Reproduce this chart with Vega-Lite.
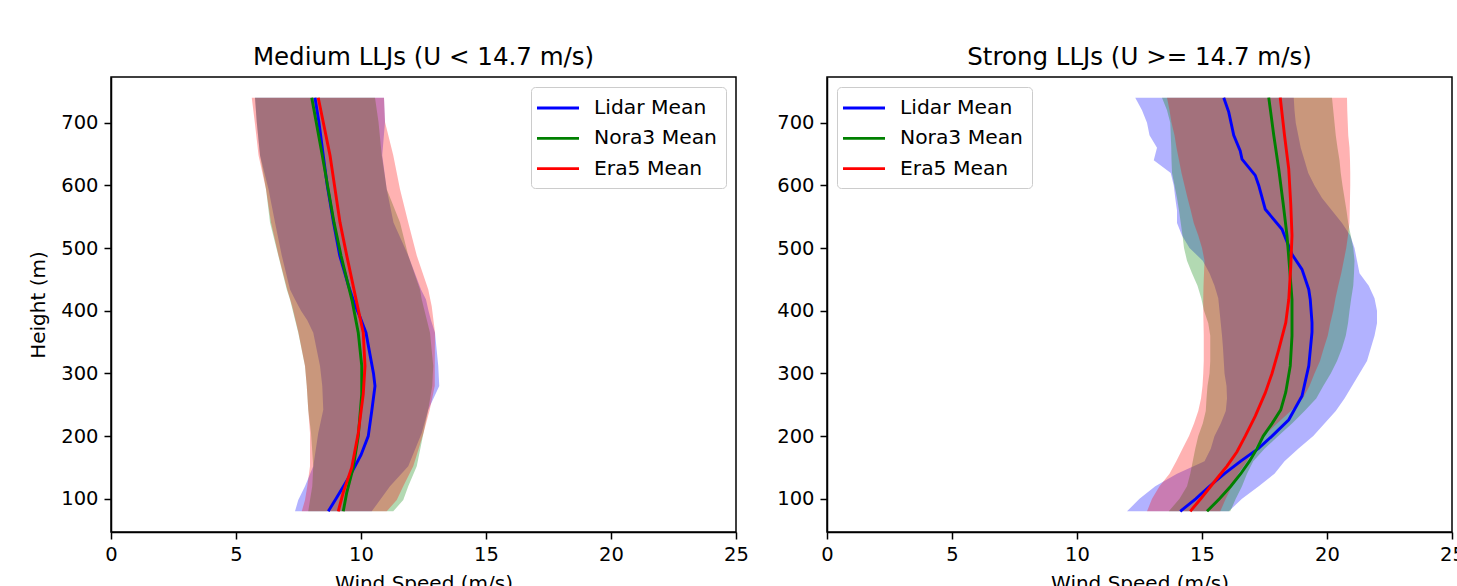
{
 "$schema": "https://vega.github.io/schema/vega-lite/v6.json",
 "background": "white",
 "padding": {"left": 28, "top": 43, "right": 0, "bottom": 0},
 "spacing": 26,
 "config": {
  "font": "DejaVu Sans",
  "view": {"stroke": "black", "strokeWidth": 1.5},
  "axis": {"labelFont": "DejaVu Sans", "labelFontSize": 19.5, "labelColor": "black", "titleFont": "DejaVu Sans", "titleFontSize": 20, "titleFontWeight": "normal", "titleColor": "black", "tickColor": "black", "tickSize": 7, "tickWidth": 1.5, "domainColor": "black", "domainWidth": 1.5, "labelPadding": 6, "grid": false, "labelFlush": false, "labelOverlap": false},
  "axisY": {"titlePadding": 12},
  "axisX": {"titlePadding": 10},
  "title": {"font": "DejaVu Sans", "fontSize": 24.5, "fontWeight": "normal", "color": "black", "offset": 7},
  "legend": {"title": null, "padding": 9, "fillColor": "rgba(255,255,255,0.8)", "strokeColor": "#cccccc", "cornerRadius": 4, "labelFont": "DejaVu Sans", "labelFontSize": 20.3, "labelColor": "black", "symbolType": "M-2,0L2,0", "symbolSize": 441, "symbolStrokeWidth": 2.8, "symbolOffset": 6, "labelOffset": 24, "rowPadding": 7.3, "offset": 10}
 },
 "datasets": {
  "medium_bands": [
   {"source": "Lidar", "height": 80, "low": 7.36, "high": 10.43},
   {"source": "Lidar", "height": 98, "low": 7.49, "high": 10.76},
   {"source": "Lidar", "height": 120, "low": 7.76, "high": 11.16},
   {"source": "Lidar", "height": 152, "low": 8.09, "high": 11.89},
   {"source": "Lidar", "height": 205, "low": 8.29, "high": 12.43},
   {"source": "Lidar", "height": 242, "low": 8.49, "high": 12.69},
   {"source": "Lidar", "height": 280, "low": 8.45, "high": 13.13},
   {"source": "Lidar", "height": 312, "low": 8.36, "high": 13.09},
   {"source": "Lidar", "height": 365, "low": 8.09, "high": 12.96},
   {"source": "Lidar", "height": 385, "low": 7.85, "high": 12.8},
   {"source": "Lidar", "height": 400, "low": 7.6, "high": 12.7},
   {"source": "Lidar", "height": 418, "low": 7.36, "high": 12.6},
   {"source": "Lidar", "height": 434, "low": 7.16, "high": 12.4},
   {"source": "Lidar", "height": 488, "low": 6.83, "high": 11.89},
   {"source": "Lidar", "height": 541, "low": 6.56, "high": 11.3},
   {"source": "Lidar", "height": 594, "low": 6.3, "high": 11.03},
   {"source": "Lidar", "height": 648, "low": 5.96, "high": 10.85},
   {"source": "Lidar", "height": 701, "low": 5.83, "high": 10.96},
   {"source": "Lidar", "height": 740, "low": 5.76, "high": 10.92},
   {"source": "Nora3", "height": 80, "low": 7.89, "high": 11.29},
   {"source": "Nora3", "height": 98, "low": 7.96, "high": 11.69},
   {"source": "Nora3", "height": 120, "low": 8.05, "high": 11.89},
   {"source": "Nora3", "height": 152, "low": 8.09, "high": 12.23},
   {"source": "Nora3", "height": 205, "low": 8.0, "high": 12.5},
   {"source": "Nora3", "height": 242, "low": 7.89, "high": 12.69},
   {"source": "Nora3", "height": 280, "low": 7.83, "high": 12.85},
   {"source": "Nora3", "height": 312, "low": 7.76, "high": 12.89},
   {"source": "Nora3", "height": 365, "low": 7.49, "high": 12.76},
   {"source": "Nora3", "height": 418, "low": 7.16, "high": 12.43},
   {"source": "Nora3", "height": 434, "low": 7.03, "high": 12.36},
   {"source": "Nora3", "height": 488, "low": 6.69, "high": 11.89},
   {"source": "Nora3", "height": 541, "low": 6.36, "high": 11.56},
   {"source": "Nora3", "height": 594, "low": 6.2, "high": 11.03},
   {"source": "Nora3", "height": 648, "low": 5.96, "high": 10.83},
   {"source": "Nora3", "height": 701, "low": 5.83, "high": 10.7},
   {"source": "Nora3", "height": 740, "low": 5.76, "high": 10.56},
   {"source": "Era5", "height": 80, "low": 7.63, "high": 11.03},
   {"source": "Era5", "height": 98, "low": 7.76, "high": 11.43},
   {"source": "Era5", "height": 120, "low": 7.85, "high": 11.69},
   {"source": "Era5", "height": 152, "low": 7.96, "high": 12.09},
   {"source": "Era5", "height": 205, "low": 7.96, "high": 12.5},
   {"source": "Era5", "height": 242, "low": 7.89, "high": 12.75},
   {"source": "Era5", "height": 280, "low": 7.83, "high": 12.95},
   {"source": "Era5", "height": 312, "low": 7.76, "high": 12.95},
   {"source": "Era5", "height": 365, "low": 7.5, "high": 12.96},
   {"source": "Era5", "height": 407, "low": 7.25, "high": 12.83},
   {"source": "Era5", "height": 434, "low": 7.05, "high": 12.69},
   {"source": "Era5", "height": 488, "low": 6.7, "high": 12.23},
   {"source": "Era5", "height": 541, "low": 6.4, "high": 11.89},
   {"source": "Era5", "height": 594, "low": 6.2, "high": 11.56},
   {"source": "Era5", "height": 648, "low": 5.9, "high": 11.29},
   {"source": "Era5", "height": 701, "low": 5.75, "high": 10.96},
   {"source": "Era5", "height": 740, "low": 5.63, "high": 10.92}
  ],
  "medium_means": [
   {"series": "Lidar Mean", "height": 80, "mean": 8.69},
   {"series": "Lidar Mean", "height": 100, "mean": 9.0},
   {"series": "Lidar Mean", "height": 120, "mean": 9.3},
   {"series": "Lidar Mean", "height": 140, "mean": 9.6},
   {"series": "Lidar Mean", "height": 170, "mean": 10.0},
   {"series": "Lidar Mean", "height": 200, "mean": 10.29},
   {"series": "Lidar Mean", "height": 240, "mean": 10.43},
   {"series": "Lidar Mean", "height": 280, "mean": 10.56},
   {"series": "Lidar Mean", "height": 300, "mean": 10.5},
   {"series": "Lidar Mean", "height": 330, "mean": 10.36},
   {"series": "Lidar Mean", "height": 365, "mean": 10.2},
   {"series": "Lidar Mean", "height": 390, "mean": 9.96},
   {"series": "Lidar Mean", "height": 410, "mean": 9.75},
   {"series": "Lidar Mean", "height": 440, "mean": 9.5},
   {"series": "Lidar Mean", "height": 488, "mean": 9.15},
   {"series": "Lidar Mean", "height": 541, "mean": 8.9},
   {"series": "Lidar Mean", "height": 600, "mean": 8.65},
   {"series": "Lidar Mean", "height": 648, "mean": 8.49},
   {"series": "Lidar Mean", "height": 700, "mean": 8.32},
   {"series": "Lidar Mean", "height": 740, "mean": 8.16},
   {"series": "Nora3 Mean", "height": 80, "mean": 9.29},
   {"series": "Nora3 Mean", "height": 110, "mean": 9.43},
   {"series": "Nora3 Mean", "height": 150, "mean": 9.69},
   {"series": "Nora3 Mean", "height": 200, "mean": 9.89},
   {"series": "Nora3 Mean", "height": 267, "mean": 10.03},
   {"series": "Nora3 Mean", "height": 312, "mean": 10.03},
   {"series": "Nora3 Mean", "height": 365, "mean": 9.89},
   {"series": "Nora3 Mean", "height": 415, "mean": 9.65},
   {"series": "Nora3 Mean", "height": 488, "mean": 9.2},
   {"series": "Nora3 Mean", "height": 541, "mean": 8.92},
   {"series": "Nora3 Mean", "height": 648, "mean": 8.45},
   {"series": "Nora3 Mean", "height": 740, "mean": 8.03},
   {"series": "Era5 Mean", "height": 80, "mean": 9.09},
   {"series": "Era5 Mean", "height": 110, "mean": 9.29},
   {"series": "Era5 Mean", "height": 150, "mean": 9.63},
   {"series": "Era5 Mean", "height": 205, "mean": 9.89},
   {"series": "Era5 Mean", "height": 267, "mean": 10.09},
   {"series": "Era5 Mean", "height": 312, "mean": 10.16},
   {"series": "Era5 Mean", "height": 365, "mean": 10.09},
   {"series": "Era5 Mean", "height": 415, "mean": 9.82},
   {"series": "Era5 Mean", "height": 488, "mean": 9.43},
   {"series": "Era5 Mean", "height": 541, "mean": 9.16},
   {"series": "Era5 Mean", "height": 648, "mean": 8.76},
   {"series": "Era5 Mean", "height": 740, "mean": 8.29}
  ],
  "strong_bands": [
   {"source": "Lidar", "height": 80, "low": 12.0, "high": 16.07},
   {"source": "Lidar", "height": 100, "low": 12.5, "high": 16.6},
   {"source": "Lidar", "height": 120, "low": 13.13, "high": 17.27},
   {"source": "Lidar", "height": 140, "low": 14.0, "high": 17.9},
   {"source": "Lidar", "height": 160, "low": 15.1, "high": 18.3},
   {"source": "Lidar", "height": 180, "low": 15.35, "high": 18.85},
   {"source": "Lidar", "height": 200, "low": 15.5, "high": 19.45},
   {"source": "Lidar", "height": 220, "low": 15.75, "high": 19.9},
   {"source": "Lidar", "height": 240, "low": 15.95, "high": 20.35},
   {"source": "Lidar", "height": 260, "low": 16.0, "high": 20.7},
   {"source": "Lidar", "height": 280, "low": 15.98, "high": 21.0},
   {"source": "Lidar", "height": 300, "low": 15.9, "high": 21.3},
   {"source": "Lidar", "height": 320, "low": 15.87, "high": 21.6},
   {"source": "Lidar", "height": 340, "low": 15.84, "high": 21.75},
   {"source": "Lidar", "height": 360, "low": 15.8, "high": 21.9},
   {"source": "Lidar", "height": 380, "low": 15.75, "high": 22.0},
   {"source": "Lidar", "height": 400, "low": 15.7, "high": 22.0},
   {"source": "Lidar", "height": 420, "low": 15.65, "high": 21.9},
   {"source": "Lidar", "height": 440, "low": 15.5, "high": 21.67},
   {"source": "Lidar", "height": 460, "low": 15.3, "high": 21.3},
   {"source": "Lidar", "height": 480, "low": 15.03, "high": 21.2},
   {"source": "Lidar", "height": 500, "low": 14.5, "high": 21.1},
   {"source": "Lidar", "height": 520, "low": 14.2, "high": 20.93},
   {"source": "Lidar", "height": 540, "low": 14.0, "high": 20.6},
   {"source": "Lidar", "height": 560, "low": 14.0, "high": 20.2},
   {"source": "Lidar", "height": 580, "low": 13.93, "high": 19.8},
   {"source": "Lidar", "height": 600, "low": 13.87, "high": 19.5},
   {"source": "Lidar", "height": 620, "low": 13.75, "high": 19.25},
   {"source": "Lidar", "height": 640, "low": 13.07, "high": 19.1},
   {"source": "Lidar", "height": 660, "low": 13.2, "high": 18.95},
   {"source": "Lidar", "height": 680, "low": 12.9, "high": 18.85},
   {"source": "Lidar", "height": 700, "low": 12.8, "high": 18.75},
   {"source": "Lidar", "height": 720, "low": 12.6, "high": 18.7},
   {"source": "Lidar", "height": 740, "low": 12.33, "high": 18.67},
   {"source": "Nora3", "height": 80, "low": 13.67, "high": 16.13},
   {"source": "Nora3", "height": 100, "low": 14.1, "high": 16.35},
   {"source": "Nora3", "height": 120, "low": 14.4, "high": 16.6},
   {"source": "Nora3", "height": 140, "low": 14.53, "high": 16.8},
   {"source": "Nora3", "height": 160, "low": 14.63, "high": 17.05},
   {"source": "Nora3", "height": 180, "low": 14.73, "high": 17.5},
   {"source": "Nora3", "height": 200, "low": 14.85, "high": 18.05},
   {"source": "Nora3", "height": 220, "low": 15.03, "high": 18.6},
   {"source": "Nora3", "height": 240, "low": 15.15, "high": 19.1},
   {"source": "Nora3", "height": 260, "low": 15.18, "high": 19.57},
   {"source": "Nora3", "height": 280, "low": 15.22, "high": 19.85},
   {"source": "Nora3", "height": 300, "low": 15.3, "high": 20.15},
   {"source": "Nora3", "height": 320, "low": 15.33, "high": 20.4},
   {"source": "Nora3", "height": 340, "low": 15.33, "high": 20.6},
   {"source": "Nora3", "height": 360, "low": 15.33, "high": 20.75},
   {"source": "Nora3", "height": 380, "low": 15.25, "high": 20.84},
   {"source": "Nora3", "height": 400, "low": 15.08, "high": 20.9},
   {"source": "Nora3", "height": 420, "low": 14.97, "high": 20.97},
   {"source": "Nora3", "height": 440, "low": 14.82, "high": 21.05},
   {"source": "Nora3", "height": 460, "low": 14.6, "high": 21.08},
   {"source": "Nora3", "height": 480, "low": 14.4, "high": 21.1},
   {"source": "Nora3", "height": 500, "low": 14.28, "high": 21.05},
   {"source": "Nora3", "height": 520, "low": 14.22, "high": 20.95},
   {"source": "Nora3", "height": 540, "low": 14.15, "high": 20.85},
   {"source": "Nora3", "height": 560, "low": 14.08, "high": 20.78},
   {"source": "Nora3", "height": 580, "low": 14.0, "high": 20.7},
   {"source": "Nora3", "height": 600, "low": 13.9, "high": 20.62},
   {"source": "Nora3", "height": 620, "low": 13.8, "high": 20.55},
   {"source": "Nora3", "height": 640, "low": 13.78, "high": 20.5},
   {"source": "Nora3", "height": 660, "low": 13.77, "high": 20.42},
   {"source": "Nora3", "height": 680, "low": 13.75, "high": 20.35},
   {"source": "Nora3", "height": 700, "low": 13.73, "high": 20.3},
   {"source": "Nora3", "height": 720, "low": 13.6, "high": 20.25},
   {"source": "Nora3", "height": 740, "low": 13.4, "high": 20.2},
   {"source": "Era5", "height": 80, "low": 12.8, "high": 15.73},
   {"source": "Era5", "height": 100, "low": 13.0, "high": 15.95},
   {"source": "Era5", "height": 120, "low": 13.3, "high": 16.2},
   {"source": "Era5", "height": 140, "low": 13.7, "high": 16.45},
   {"source": "Era5", "height": 160, "low": 13.97, "high": 16.8},
   {"source": "Era5", "height": 180, "low": 14.22, "high": 17.1},
   {"source": "Era5", "height": 200, "low": 14.48, "high": 17.45},
   {"source": "Era5", "height": 220, "low": 14.68, "high": 18.0},
   {"source": "Era5", "height": 240, "low": 14.85, "high": 18.55},
   {"source": "Era5", "height": 260, "low": 14.96, "high": 19.03},
   {"source": "Era5", "height": 280, "low": 15.02, "high": 19.3},
   {"source": "Era5", "height": 300, "low": 15.05, "high": 19.5},
   {"source": "Era5", "height": 320, "low": 15.07, "high": 19.72},
   {"source": "Era5", "height": 340, "low": 15.07, "high": 19.87},
   {"source": "Era5", "height": 360, "low": 15.07, "high": 20.03},
   {"source": "Era5", "height": 380, "low": 15.06, "high": 20.13},
   {"source": "Era5", "height": 400, "low": 15.05, "high": 20.25},
   {"source": "Era5", "height": 420, "low": 15.05, "high": 20.34},
   {"source": "Era5", "height": 440, "low": 15.06, "high": 20.45},
   {"source": "Era5", "height": 460, "low": 15.08, "high": 20.57},
   {"source": "Era5", "height": 480, "low": 15.1, "high": 20.67},
   {"source": "Era5", "height": 500, "low": 15.0, "high": 20.77},
   {"source": "Era5", "height": 520, "low": 14.85, "high": 20.84},
   {"source": "Era5", "height": 540, "low": 14.67, "high": 20.9},
   {"source": "Era5", "height": 560, "low": 14.55, "high": 20.91},
   {"source": "Era5", "height": 580, "low": 14.42, "high": 20.92},
   {"source": "Era5", "height": 600, "low": 14.3, "high": 20.93},
   {"source": "Era5", "height": 620, "low": 14.18, "high": 20.93},
   {"source": "Era5", "height": 640, "low": 14.08, "high": 20.92},
   {"source": "Era5", "height": 660, "low": 13.98, "high": 20.9},
   {"source": "Era5", "height": 680, "low": 13.9, "high": 20.85},
   {"source": "Era5", "height": 700, "low": 13.78, "high": 20.83},
   {"source": "Era5", "height": 720, "low": 13.7, "high": 20.81},
   {"source": "Era5", "height": 740, "low": 13.6, "high": 20.8}
  ],
  "strong_means": [
   {"series": "Lidar Mean", "height": 80, "mean": 14.13},
   {"series": "Lidar Mean", "height": 100, "mean": 14.75},
   {"series": "Lidar Mean", "height": 120, "mean": 15.3},
   {"series": "Lidar Mean", "height": 140, "mean": 15.9},
   {"series": "Lidar Mean", "height": 160, "mean": 16.55},
   {"series": "Lidar Mean", "height": 180, "mean": 17.25},
   {"series": "Lidar Mean", "height": 200, "mean": 17.8},
   {"series": "Lidar Mean", "height": 226, "mean": 18.47},
   {"series": "Lidar Mean", "height": 264, "mean": 19.0},
   {"series": "Lidar Mean", "height": 312, "mean": 19.27},
   {"series": "Lidar Mean", "height": 366, "mean": 19.4},
   {"series": "Lidar Mean", "height": 381, "mean": 19.4},
   {"series": "Lidar Mean", "height": 418, "mean": 19.33},
   {"series": "Lidar Mean", "height": 434, "mean": 19.27},
   {"series": "Lidar Mean", "height": 466, "mean": 19.0},
   {"series": "Lidar Mean", "height": 490, "mean": 18.6},
   {"series": "Lidar Mean", "height": 530, "mean": 18.2},
   {"series": "Lidar Mean", "height": 562, "mean": 17.53},
   {"series": "Lidar Mean", "height": 600, "mean": 17.27},
   {"series": "Lidar Mean", "height": 616, "mean": 17.13},
   {"series": "Lidar Mean", "height": 642, "mean": 16.6},
   {"series": "Lidar Mean", "height": 655, "mean": 16.53},
   {"series": "Lidar Mean", "height": 680, "mean": 16.27},
   {"series": "Lidar Mean", "height": 717, "mean": 16.07},
   {"series": "Lidar Mean", "height": 740, "mean": 15.87},
   {"series": "Nora3 Mean", "height": 80, "mean": 15.2},
   {"series": "Nora3 Mean", "height": 100, "mean": 15.7},
   {"series": "Nora3 Mean", "height": 120, "mean": 16.15},
   {"series": "Nora3 Mean", "height": 140, "mean": 16.55},
   {"series": "Nora3 Mean", "height": 160, "mean": 16.9},
   {"series": "Nora3 Mean", "height": 180, "mean": 17.2},
   {"series": "Nora3 Mean", "height": 200, "mean": 17.45},
   {"series": "Nora3 Mean", "height": 220, "mean": 17.8},
   {"series": "Nora3 Mean", "height": 242, "mean": 18.15},
   {"series": "Nora3 Mean", "height": 270, "mean": 18.35},
   {"series": "Nora3 Mean", "height": 312, "mean": 18.53},
   {"series": "Nora3 Mean", "height": 360, "mean": 18.6},
   {"series": "Nora3 Mean", "height": 418, "mean": 18.6},
   {"series": "Nora3 Mean", "height": 470, "mean": 18.5},
   {"series": "Nora3 Mean", "height": 520, "mean": 18.4},
   {"series": "Nora3 Mean", "height": 570, "mean": 18.25},
   {"series": "Nora3 Mean", "height": 626, "mean": 18.07},
   {"series": "Nora3 Mean", "height": 680, "mean": 17.87},
   {"series": "Nora3 Mean", "height": 740, "mean": 17.67},
   {"series": "Era5 Mean", "height": 80, "mean": 14.53},
   {"series": "Era5 Mean", "height": 100, "mean": 14.95},
   {"series": "Era5 Mean", "height": 120, "mean": 15.35},
   {"series": "Era5 Mean", "height": 136, "mean": 15.67},
   {"series": "Era5 Mean", "height": 152, "mean": 16.0},
   {"series": "Era5 Mean", "height": 175, "mean": 16.4},
   {"series": "Era5 Mean", "height": 200, "mean": 16.73},
   {"series": "Era5 Mean", "height": 232, "mean": 17.13},
   {"series": "Era5 Mean", "height": 269, "mean": 17.53},
   {"series": "Era5 Mean", "height": 300, "mean": 17.8},
   {"series": "Era5 Mean", "height": 338, "mean": 18.07},
   {"series": "Era5 Mean", "height": 381, "mean": 18.35},
   {"series": "Era5 Mean", "height": 418, "mean": 18.47},
   {"series": "Era5 Mean", "height": 470, "mean": 18.55},
   {"series": "Era5 Mean", "height": 520, "mean": 18.6},
   {"series": "Era5 Mean", "height": 570, "mean": 18.55},
   {"series": "Era5 Mean", "height": 626, "mean": 18.47},
   {"series": "Era5 Mean", "height": 680, "mean": 18.3},
   {"series": "Era5 Mean", "height": 740, "mean": 18.13}
  ]
 },
 "hconcat": [
  {
   "width": 625, "height": 455,
   "title": {"text": "Medium LLJs (U < 14.7 m/s)"},
   "layer": [
    {"data": {"name": "medium_bands"}, "transform": [{"filter": "datum.source === 'Lidar'"}],
     "mark": {"type": "area", "orient": "horizontal", "color": "#0000ff", "opacity": 0.3},
     "encoding": {
      "y": {"field": "height", "type": "quantitative", "scale": {"domain": [47, 773], "nice": false, "zero": false}, "axis": {"values": [100, 200, 300, 400, 500, 600, 700], "title": "Height (m)"}},
      "x": {"field": "low", "type": "quantitative", "scale": {"domain": [0, 25], "nice": false, "zero": false}, "axis": {"values": [0, 5, 10, 15, 20, 25], "title": "Wind Speed (m/s)"}},
      "x2": {"field": "high"}}},
    {"data": {"name": "medium_bands"}, "transform": [{"filter": "datum.source === 'Nora3'"}],
     "mark": {"type": "area", "orient": "horizontal", "color": "#008000", "opacity": 0.3},
     "encoding": {
      "y": {"field": "height", "type": "quantitative", "title": "Height (m)"},
      "x": {"field": "low", "type": "quantitative", "title": "Wind Speed (m/s)"},
      "x2": {"field": "high"}}},
    {"data": {"name": "medium_bands"}, "transform": [{"filter": "datum.source === 'Era5'"}],
     "mark": {"type": "area", "orient": "horizontal", "color": "#ff0000", "opacity": 0.3},
     "encoding": {
      "y": {"field": "height", "type": "quantitative", "title": "Height (m)"},
      "x": {"field": "low", "type": "quantitative", "title": "Wind Speed (m/s)"},
      "x2": {"field": "high"}}},
    {"data": {"name": "medium_means"},
     "mark": {"type": "line", "strokeWidth": 2.9},
     "encoding": {
      "y": {"field": "height", "type": "quantitative", "title": "Height (m)"},
      "x": {"field": "mean", "type": "quantitative", "title": "Wind Speed (m/s)"},
      "order": {"field": "height", "type": "quantitative"},
      "color": {"field": "series", "type": "nominal", "scale": {"domain": ["Lidar Mean", "Nora3 Mean", "Era5 Mean"], "range": ["#0000ff", "#008000", "#ff0000"]}, "legend": {"orient": "top-right"}}}}
   ]
  },
  {
   "width": 625, "height": 455,
   "title": {"text": "Strong LLJs (U >= 14.7 m/s)"},
   "layer": [
    {"data": {"name": "strong_bands"}, "transform": [{"filter": "datum.source === 'Lidar'"}],
     "mark": {"type": "area", "orient": "horizontal", "color": "#0000ff", "opacity": 0.3},
     "encoding": {
      "y": {"field": "height", "type": "quantitative", "scale": {"domain": [47, 773], "nice": false, "zero": false}, "axis": {"values": [100, 200, 300, 400, 500, 600, 700], "title": null}},
      "x": {"field": "low", "type": "quantitative", "scale": {"domain": [0, 25], "nice": false, "zero": false}, "axis": {"values": [0, 5, 10, 15, 20, 25], "title": "Wind Speed (m/s)"}},
      "x2": {"field": "high"}}},
    {"data": {"name": "strong_bands"}, "transform": [{"filter": "datum.source === 'Nora3'"}],
     "mark": {"type": "area", "orient": "horizontal", "color": "#008000", "opacity": 0.3},
     "encoding": {
      "y": {"field": "height", "type": "quantitative", "title": null},
      "x": {"field": "low", "type": "quantitative", "title": "Wind Speed (m/s)"},
      "x2": {"field": "high"}}},
    {"data": {"name": "strong_bands"}, "transform": [{"filter": "datum.source === 'Era5'"}],
     "mark": {"type": "area", "orient": "horizontal", "color": "#ff0000", "opacity": 0.3},
     "encoding": {
      "y": {"field": "height", "type": "quantitative", "title": null},
      "x": {"field": "low", "type": "quantitative", "title": "Wind Speed (m/s)"},
      "x2": {"field": "high"}}},
    {"data": {"name": "strong_means"},
     "mark": {"type": "line", "strokeWidth": 2.9},
     "encoding": {
      "y": {"field": "height", "type": "quantitative", "title": null},
      "x": {"field": "mean", "type": "quantitative", "title": "Wind Speed (m/s)"},
      "order": {"field": "height", "type": "quantitative"},
      "color": {"field": "series", "type": "nominal", "scale": {"domain": ["Lidar Mean", "Nora3 Mean", "Era5 Mean"], "range": ["#0000ff", "#008000", "#ff0000"]}, "legend": {"orient": "top-left"}}}}
   ]
  }
 ],
 "resolve": {"scale": {"color": "independent"}, "legend": {"color": "independent"}}
}
